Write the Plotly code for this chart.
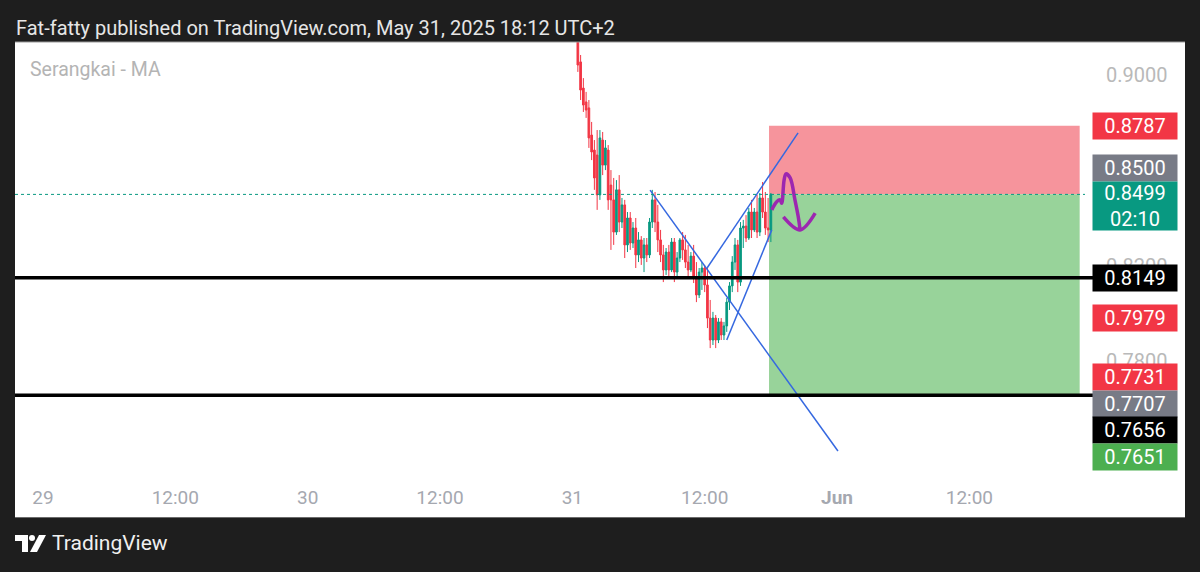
import plotly.graph_objects as go
import pandas as pd

# ---------------- data ----------------
candle_start = "2025-05-31 00:30"
candle_freq = "15min"
open_ = [0.9168, 0.9055, 0.8945, 0.8887, 0.8862, 0.8748, 0.8685, 0.8664, 0.8497, 0.8727,
         0.8622, 0.8685, 0.8538, 0.8476, 0.8341, 0.8518, 0.8383, 0.8455, 0.8287, 0.8400,
         0.8295, 0.8358, 0.8245, 0.8308, 0.8232, 0.8287, 0.8245, 0.8383, 0.8476, 0.8383,
         0.8308, 0.8245, 0.8182, 0.8257, 0.8182, 0.8299, 0.8173, 0.8232, 0.8308, 0.8266,
         0.8215, 0.8182, 0.8240, 0.8148, 0.8077, 0.8173, 0.8190, 0.8119, 0.7980, 0.7888,
         0.7980, 0.7888, 0.7964, 0.7909, 0.7947, 0.8047, 0.8115, 0.8215, 0.8287, 0.8131,
         0.8358, 0.8366, 0.8316, 0.8425, 0.8350, 0.8425, 0.8341, 0.8484, 0.8425, 0.8358,
         0.8350]
high = [0.9197, 0.9084, 0.8987, 0.8929, 0.8895, 0.8803, 0.8727, 0.8769, 0.8769, 0.8761,
        0.8727, 0.8706, 0.8601, 0.8568, 0.8559, 0.8580, 0.8484, 0.8476, 0.8425, 0.8425,
        0.8383, 0.8400, 0.8341, 0.8324, 0.8316, 0.8316, 0.8400, 0.8518, 0.8509, 0.8455,
        0.8350, 0.8287, 0.8274, 0.8287, 0.8316, 0.8316, 0.8257, 0.8316, 0.8341, 0.8329,
        0.8287, 0.8257, 0.8287, 0.8215, 0.8190, 0.8215, 0.8203, 0.8190, 0.8056, 0.8006,
        0.7993, 0.7980, 0.7980, 0.7964, 0.8064, 0.8131, 0.8240, 0.8316, 0.8308, 0.8383,
        0.8392, 0.8412, 0.8442, 0.8476, 0.8442, 0.8497, 0.8505, 0.8551, 0.8509, 0.8484,
        0.8505]
low = [0.9013, 0.8895, 0.8845, 0.8820, 0.8694, 0.8643, 0.8518, 0.8434, 0.8476, 0.8580,
       0.8601, 0.8434, 0.8266, 0.8287, 0.8329, 0.8341, 0.8358, 0.8232, 0.8257, 0.8266,
       0.8274, 0.8190, 0.8215, 0.8203, 0.8173, 0.8215, 0.8232, 0.8358, 0.8341, 0.8257,
       0.8215, 0.8131, 0.8161, 0.8148, 0.8173, 0.8131, 0.8148, 0.8215, 0.8224, 0.8190,
       0.8148, 0.8173, 0.8127, 0.8047, 0.8064, 0.8098, 0.8089, 0.7938, 0.7854, 0.7867,
       0.7854, 0.7875, 0.7888, 0.7888, 0.7922, 0.8014, 0.8089, 0.8182, 0.8089, 0.8115,
       0.8274, 0.8299, 0.8308, 0.8316, 0.8341, 0.8316, 0.8324, 0.8400, 0.8329, 0.8299,
       0.8299]
close = [0.9042, 0.8937, 0.8874, 0.8853, 0.8736, 0.8677, 0.8568, 0.8497, 0.8736, 0.8622,
         0.8694, 0.8476, 0.8476, 0.8341, 0.8518, 0.8383, 0.8455, 0.8287, 0.8400, 0.8295,
         0.8358, 0.8245, 0.8308, 0.8232, 0.8287, 0.8245, 0.8383, 0.8476, 0.8383, 0.8308,
         0.8245, 0.8182, 0.8257, 0.8182, 0.8299, 0.8173, 0.8232, 0.8308, 0.8266, 0.8215,
         0.8182, 0.8240, 0.8148, 0.8077, 0.8173, 0.8190, 0.8119, 0.7980, 0.7888, 0.7980,
         0.7888, 0.7964, 0.7909, 0.7947, 0.8047, 0.8115, 0.8215, 0.8287, 0.8131, 0.8358,
         0.8366, 0.8316, 0.8425, 0.8350, 0.8425, 0.8341, 0.8484, 0.8425, 0.8358, 0.8350,
         0.8499]

last_price = 0.8499
support_levels = [0.8149, 0.7656]

# position tool (short)
pos_start = "2025-05-31 17:50"
pos_end = "2025-06-01 22:00"
stop_price = 0.8787
entry_price = 0.8500
target_price = 0.7651

# trend lines (time, price)
desc_t = ["2025-05-31 07:03", "2025-06-01 00:05"]
desc_p = [0.8517, 0.7422]
upA_t = ["2025-05-31 12:13", "2025-05-31 20:28"]
upA_p = [0.8190, 0.8757]
upB_t = ["2025-05-31 14:00", "2025-05-31 18:05"]
upB_p = [0.7888, 0.8350]

# hand drawn arrow
arrow_t = ["2025-05-31 18:05", "2025-05-31 18:32", "2025-05-31 18:50", "2025-05-31 18:59",
           "2025-05-31 19:12", "2025-05-31 19:22", "2025-05-31 19:45", "2025-05-31 20:11",
           "2025-05-31 20:29", "2025-05-31 20:39", None,
           "2025-05-31 19:08", "2025-05-31 20:39", "2025-05-31 22:01"]
arrow_p = [0.8434, 0.8468, 0.8476, 0.8462, 0.8559, 0.8585, 0.8568, 0.8476,
           0.8405, 0.8350, None,
           0.8405, 0.8350, 0.8420]

# price scale labels
label_vals = [0.8787, 0.8500, 0.8149, 0.7979, 0.7731, 0.7707, 0.7656, 0.7651]
label_cols = ["#f23645", "#787b86", "#000000", "#f23645", "#f23645", "#787b86", "#000000", "#4caf50"]
label_shift = [0, 26, 0, 0, 0, -21, -35, -61]
countdown = "02:10"

y_ticks = [0.74, 0.78, 0.82, 0.86, 0.90]
x_tickvals = ["2025-05-29 00:00", "2025-05-29 12:00", "2025-05-30 00:00", "2025-05-30 12:00",
              "2025-05-31 00:00", "2025-05-31 12:00", "2025-06-01 00:00", "2025-06-01 12:00"]
x_ticktext = ["29", "12:00", "30", "12:00", "31", "12:00", "<b>Jun</b>", "12:00"]
x_range = ["2025-05-28 21:28", "2025-06-01 22:29"]
y_range = [0.73089, 0.91385]

title_text = "Fat-fatty published on TradingView.com, May 31, 2025 18:12 UTC+2"
legend_text = "Serangkai - MA"

# ---------------- layout helpers ----------------
W, H = 1200, 572
PL, PR, PT, PB = 15, 1085, 42, 478


def px(x):
    return (x - PL) / (PR - PL)


def py(y):
    return (PB - y) / (PB - PT)


FONT = "Roboto"
times = pd.date_range(candle_start, periods=len(open_), freq=candle_freq)

fig = go.Figure()

fig.add_trace(go.Candlestick(
    x=times, open=open_, high=high, low=low, close=close,
    increasing=dict(line=dict(color="#089981", width=1), fillcolor="#089981"),
    decreasing=dict(line=dict(color="#f23645", width=1), fillcolor="#f23645"),
    whiskerwidth=0, showlegend=False, hoverinfo="skip"))

blue = "#3568e0"
for tt, pp in [(desc_t, desc_p), (upA_t, upA_p), (upB_t, upB_p)]:
    fig.add_trace(go.Scatter(x=pd.to_datetime(tt), y=pp, mode="lines",
                             line=dict(color=blue, width=1.5), showlegend=False,
                             hoverinfo="skip"))

fig.add_trace(go.Scatter(x=[pd.Timestamp(t) if t else None for t in arrow_t], y=arrow_p,
                         mode="lines", line=dict(color="#9c27b0", width=3.5, shape="spline"),
                         connectgaps=False, showlegend=False, hoverinfo="skip"))

shapes = []
# white chart pane
shapes.append(dict(type="rect", xref="paper", yref="paper", x0=px(15), x1=px(1185),
                   y0=py(517), y1=py(42), fillcolor="white", line=dict(width=0), layer="below"))
shapes.append(dict(type="line", xref="paper", yref="paper", x0=px(15), x1=px(1185),
                   y0=py(517.5), y1=py(517.5), line=dict(color="#6b6b6b", width=1)))
shapes.append(dict(type="line", xref="paper", yref="paper", x0=px(15), x1=px(1185),
                   y0=py(42), y1=py(42), line=dict(color="#9a9a9a", width=1)))
# position boxes
shapes.append(dict(type="rect", xref="x", yref="y", x0=pos_start, x1=pos_end,
                   y0=entry_price, y1=stop_price, fillcolor="#f6949c",
                   line=dict(width=0), layer="below"))
shapes.append(dict(type="rect", xref="x", yref="y", x0=pos_start, x1=pos_end,
                   y0=target_price, y1=entry_price, fillcolor="#98d39a",
                   line=dict(width=0), layer="below"))
# current price dotted line
shapes.append(dict(type="line", xref="paper", yref="y", x0=0, x1=1, y0=last_price,
                   y1=last_price, line=dict(color="#089981", width=1, dash="dot")))
# support lines
for lv in support_levels:
    shapes.append(dict(type="line", xref="paper", yref="y", x0=0, x1=px(1093), y0=lv, y1=lv,
                       line=dict(color="#000000", width=3.5)))

# TradingView logo
def path(pts):
    s = "M " + " L ".join(f"{px(a):.5f},{py(b):.5f}" for a, b in pts) + " Z"
    return s

shapes.append(dict(type="path", xref="paper", yref="paper",
                   path=path([(15, 535), (28, 535), (28, 552), (22, 552), (22, 541), (15, 541)]),
                   fillcolor="white", line=dict(width=0)))
shapes.append(dict(type="circle", xref="paper", yref="paper", x0=px(29), x1=px(35),
                   y0=py(541), y1=py(535), fillcolor="white", line=dict(width=0)))
shapes.append(dict(type="path", xref="paper", yref="paper",
                   path=path([(39, 535), (46, 535), (37, 552), (30, 552)]),
                   fillcolor="white", line=dict(width=0)))

annotations = []
annotations.append(dict(xref="paper", yref="paper", x=px(14), y=py(28), xanchor="left",
                        yanchor="middle", text=title_text, showarrow=False,
                        font=dict(family=FONT, size=20, color="#e6e6e6")))
annotations.append(dict(xref="paper", yref="paper", x=px(28), y=py(70), xanchor="left",
                        yanchor="middle", text=legend_text, showarrow=False,
                        font=dict(family=FONT, size=19.5, color="#b4b4b4")))
annotations.append(dict(xref="paper", yref="paper", x=px(50), y=py(543), xanchor="left",
                        yanchor="middle", text="TradingView", showarrow=False,
                        font=dict(family=FONT, size=21, color="#f0f0f0")))

for v, c, s in zip(label_vals, label_cols, label_shift):
    annotations.append(dict(xref="paper", yref="y", x=px(1135), y=v, yshift=s,
                            xanchor="center", yanchor="middle", text=f"{v:.4f}",
                            showarrow=False, bgcolor=c, width=80, height=22, borderpad=2,
                            align="center",
                            font=dict(family=FONT, size=20, color="white")))
annotations.append(dict(xref="paper", yref="y", x=px(1135), y=last_price, yshift=-12,
                        xanchor="center", yanchor="middle",
                        text=f"{last_price:.4f}<br>{countdown}", showarrow=False,
                        bgcolor="#089981", width=80, height=44, borderpad=2, align="center",
                        font=dict(family=FONT, size=20, color="white")))

fig.update_layout(
    width=W, height=H,
    margin=dict(l=PL, r=W - PR, t=PT, b=H - PB),
    paper_bgcolor="#1e1e1e", plot_bgcolor="white",
    shapes=shapes, annotations=annotations,
    showlegend=False, boxgap=0.12,
    xaxis=dict(range=x_range, type="date", rangeslider=dict(visible=False),
               showgrid=False, zeroline=False, showline=False,
               tickmode="array", tickvals=x_tickvals, ticktext=x_ticktext,
               ticks="", ticklabelstandoff=6,
               tickfont=dict(family=FONT, size=19, color="#a5a8b0")),
    yaxis=dict(range=y_range, side="right", showgrid=False, zeroline=False, showline=False,
               tickmode="array", tickvals=y_ticks, ticktext=[f"{v:.4f}" for v in y_ticks],
               ticks="", ticklabelstandoff=20,
               tickfont=dict(family=FONT, size=20, color="#b9b9b9")),
)

fig.write_html("out.html", config={"displayModeBar": False},
               post_script="document.body.style.margin='0';document.body.style.background='#1e1e1e';")
